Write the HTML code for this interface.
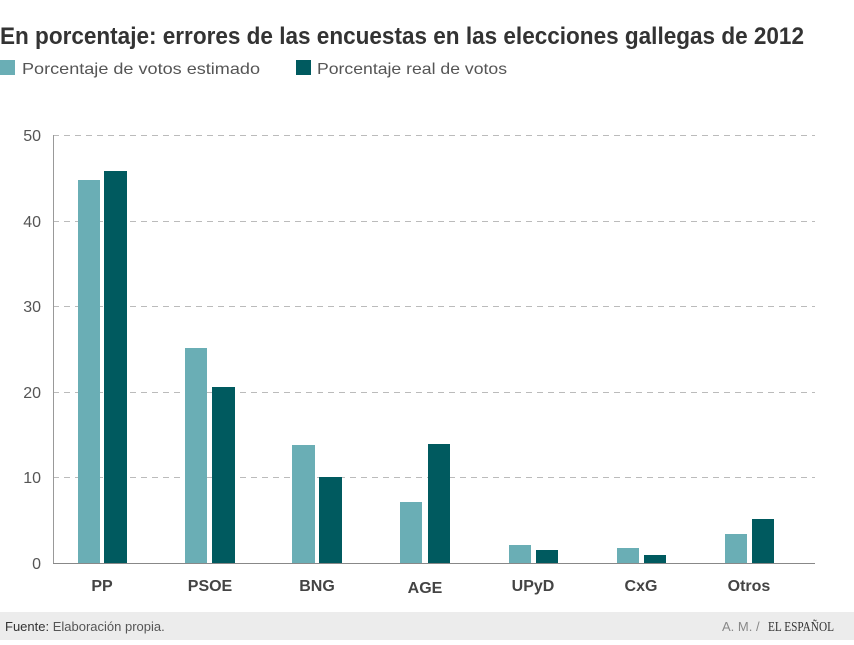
<!DOCTYPE html>
<html><head><meta charset="utf-8"><style>
body{margin:0;background:#fff;width:854px;height:640px;overflow:hidden;font-family:"Liberation Sans",sans-serif}
</style></head><body>
<svg width="854" height="640" xmlns="http://www.w3.org/2000/svg" font-family="Liberation Sans, sans-serif">
<text x="0" y="44" font-size="24" font-weight="bold" fill="#333" textLength="804" lengthAdjust="spacingAndGlyphs">En porcentaje: errores de las encuestas en las elecciones gallegas de 2012</text>
<rect x="0" y="60" width="15" height="15" fill="#6aaeb5"/>
<text x="22" y="74" font-size="16" fill="#555" textLength="238" lengthAdjust="spacingAndGlyphs">Porcentaje de votos estimado</text>
<rect x="296" y="60" width="15" height="15" fill="#005a5f"/>
<text x="317" y="74" font-size="16" fill="#555" textLength="190" lengthAdjust="spacingAndGlyphs">Porcentaje real de votos</text>
<g stroke="#bbb" stroke-dasharray="6,5" stroke-width="1">
<line x1="53" y1="135.5" x2="815" y2="135.5"/>
<line x1="53" y1="221.5" x2="815" y2="221.5"/>
<line x1="53" y1="306.5" x2="815" y2="306.5"/>
<line x1="53" y1="392.5" x2="815" y2="392.5"/>
<line x1="53" y1="477.5" x2="815" y2="477.5"/>
</g>
<line x1="53.5" y1="135" x2="53.5" y2="563" stroke="#999"/>
<g font-size="16" fill="#555" text-anchor="end">
<text x="41" y="141">50</text><text x="41" y="227">40</text><text x="41" y="312">30</text><text x="41" y="398">20</text><text x="41" y="483">10</text><text x="41" y="569">0</text>
</g>
<g fill="#6aaeb5">
<rect x="78" y="180" width="22" height="383"/>
<rect x="185" y="348" width="22" height="215"/>
<rect x="292" y="445" width="23" height="118"/>
<rect x="400" y="502" width="22" height="61"/>
<rect x="509" y="545" width="22" height="18"/>
<rect x="617" y="548" width="22" height="15"/>
<rect x="725" y="534" width="22" height="29"/>
</g>
<g fill="#005a5f">
<rect x="104" y="171" width="23" height="392"/>
<rect x="212" y="387" width="23" height="176"/>
<rect x="319" y="477" width="23" height="86"/>
<rect x="428" y="444" width="22" height="119"/>
<rect x="536" y="550" width="22" height="13"/>
<rect x="644" y="555" width="22" height="8"/>
<rect x="752" y="519" width="22" height="44"/>
</g>
<line x1="53" y1="563.5" x2="815" y2="563.5" stroke="#888"/>
<g font-size="16" font-weight="bold" fill="#444" text-anchor="middle">
<text x="102" y="591">PP</text><text x="210" y="591">PSOE</text><text x="317" y="591">BNG</text><text x="425" y="593">AGE</text><text x="533" y="591">UPyD</text><text x="641" y="591">CxG</text><text x="749" y="591">Otros</text>
</g>
<rect x="0" y="612" width="854" height="28" fill="#ececec"/>
<text x="5" y="631" font-size="13" fill="#555"><tspan fill="#333">Fuente:</tspan> Elaboración propia.</text>
<text x="722" y="631" font-size="13" fill="#888">A. M. /</text>
<text x="768" y="631" font-size="14" fill="#333" font-family="Liberation Serif, serif" textLength="66" lengthAdjust="spacingAndGlyphs">EL ESPAÑOL</text>
</svg>
</body></html>
